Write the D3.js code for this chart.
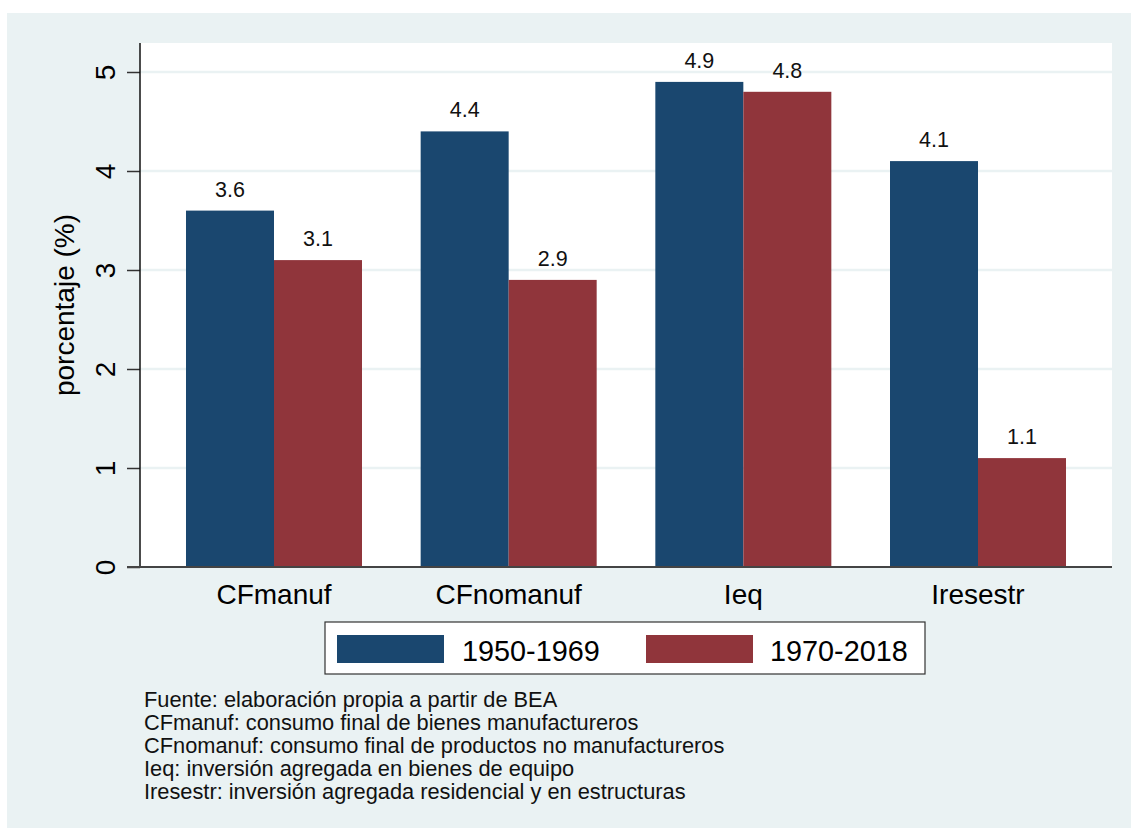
<!DOCTYPE html>
<html>
<head>
<meta charset="utf-8">
<script src="https://cdn.jsdelivr.net/npm/d3@7"></script>
<style>
  html, body { margin: 0; padding: 0; background: #ffffff; }
  svg { display: block; font-family: "Liberation Sans", Arial, sans-serif; }
</style>
</head>
<body>
<svg id="chart" width="1131" height="828"></svg>
<script>
const categories = ["CFmanuf", "CFnomanuf", "Ieq", "Iresestr"];
const seriesNames = ["1950-1969", "1970-2018"];
const values1950 = [3.6, 4.4, 4.9, 4.1];
const values1970 = [3.1, 2.9, 4.8, 1.1];
const yTicks = [0, 1, 2, 3, 4, 5];
const notes = [
  "Fuente: elaboración propia a partir de BEA",
  "CFmanuf: consumo final de bienes manufactureros",
  "CFnomanuf: consumo final de productos no manufactureros",
  "Ieq: inversión agregada en bienes de equipo",
  "Iresestr: inversión agregada residencial y en estructuras"
];
const yTitle = "porcentaje (%)";

const colors = ["#1A476F", "#90353B"];
const bg = "#EAF2F3";

const svg = d3.select("#chart");

// outer graph region
svg.append("rect").attr("x", 7).attr("y", 13).attr("width", 1124).attr("height", 815).attr("fill", bg);

const plot = { left: 140, right: 1112, top: 43, bottom: 567 };

// plot region
svg.append("rect")
  .attr("x", plot.left).attr("y", plot.top)
  .attr("width", plot.right - plot.left).attr("height", plot.bottom - plot.top)
  .attr("fill", "#ffffff");

const y = d3.scaleLinear().domain([0, 5]).range([567, 72]);

const x0 = d3.scaleBand().domain(categories).range([plot.left, plot.right])
  .paddingInner(0.25).paddingOuter(0.196);
const x1 = d3.scaleBand().domain(seriesNames).range([0, x0.bandwidth()]).padding(0);

// grid lines
svg.append("g").selectAll("line").data(yTicks.filter(d => d > 0)).join("line")
  .attr("x1", plot.left).attr("x2", plot.right)
  .attr("y1", d => y(d)).attr("y2", d => y(d))
  .attr("stroke", bg).attr("stroke-width", 2.5);

// bars
const data = categories.map((c, i) => ({ cat: c, vals: [values1950[i], values1970[i]] }));
const groups = svg.append("g").selectAll("g").data(data).join("g")
  .attr("transform", d => `translate(${x0(d.cat)},0)`);

groups.selectAll("rect").data(d => d.vals.map((v, j) => ({ v, s: seriesNames[j], j }))).join("rect")
  .attr("x", d => x1(d.s))
  .attr("width", x1.bandwidth())
  .attr("y", d => y(d.v))
  .attr("height", d => y(0) - y(d.v))
  .attr("fill", d => colors[d.j]);

groups.selectAll("text").data(d => d.vals.map((v, j) => ({ v, s: seriesNames[j], j }))).join("text")
  .attr("x", d => x1(d.s) + x1.bandwidth() / 2)
  .attr("y", d => y(d.v) - 14)
  .attr("text-anchor", "middle")
  .attr("font-size", 21.5)
  .attr("fill", "#111")
  .text(d => d3.format(".1f")(d.v));

// y axis
const yAxis = d3.axisLeft(y).tickValues(yTicks).tickSize(13).tickFormat(d3.format("d"));
const gy = svg.append("g").attr("transform", `translate(${plot.left},0)`).call(yAxis);
gy.select(".domain").remove();
gy.selectAll(".tick line").attr("stroke", "#333").attr("stroke-width", 1.5);
gy.selectAll(".tick text").remove();
gy.selectAll(".tick").append("text")
  .attr("transform", "translate(-25,0) rotate(-90)")
  .attr("text-anchor", "middle")
  .attr("fill", "#000")
  .attr("font-size", 28)
  .text(d => d);
svg.append("line").attr("x1", plot.left).attr("x2", plot.left)
  .attr("y1", plot.top).attr("y2", plot.bottom).attr("stroke", "#111").attr("stroke-width", 1.5);

// x axis
const xAxis = d3.axisBottom(x0).tickSize(0).tickPadding(0);
const gx = svg.append("g").attr("transform", `translate(0,${plot.bottom})`).call(xAxis);
gx.select(".domain").remove();
gx.selectAll(".tick text").attr("y", 37).attr("dy", null).attr("font-size", 28).attr("fill", "#000")
  .attr("font-family", "Liberation Sans, Arial, sans-serif");
svg.append("line").attr("x1", 127).attr("x2", plot.right)
  .attr("y1", plot.bottom).attr("y2", plot.bottom).attr("stroke", "#444").attr("stroke-width", 2);

// y title
svg.append("text")
  .attr("transform", `translate(74,${(plot.top + plot.bottom) / 2}) rotate(-90)`)
  .attr("text-anchor", "middle")
  .attr("font-size", 28)
  .attr("fill", "#000")
  .text(yTitle);

// legend
const lg = svg.append("g");
lg.append("rect").attr("x", 325).attr("y", 622).attr("width", 600).attr("height", 52)
  .attr("fill", "#fff").attr("stroke", "#333").attr("stroke-width", 1.2);
const legendItems = [
  { name: seriesNames[0], color: colors[0], sx: 337, tx: 462 },
  { name: seriesNames[1], color: colors[1], sx: 646, tx: 770 }
];
legendItems.forEach(it => {
  lg.append("rect").attr("x", it.sx).attr("y", 635).attr("width", 107).attr("height", 28).attr("fill", it.color);
  lg.append("text").attr("x", it.tx).attr("y", 661).attr("font-size", 28.8).attr("fill", "#000").text(it.name);
});

// notes
svg.append("g").selectAll("text").data(notes).join("text")
  .attr("x", 144)
  .attr("y", (d, i) => 707 + i * 23)
  .attr("font-size", 21.8)
  .attr("fill", "#111")
  .text(d => d);
</script>
</body>
</html>
